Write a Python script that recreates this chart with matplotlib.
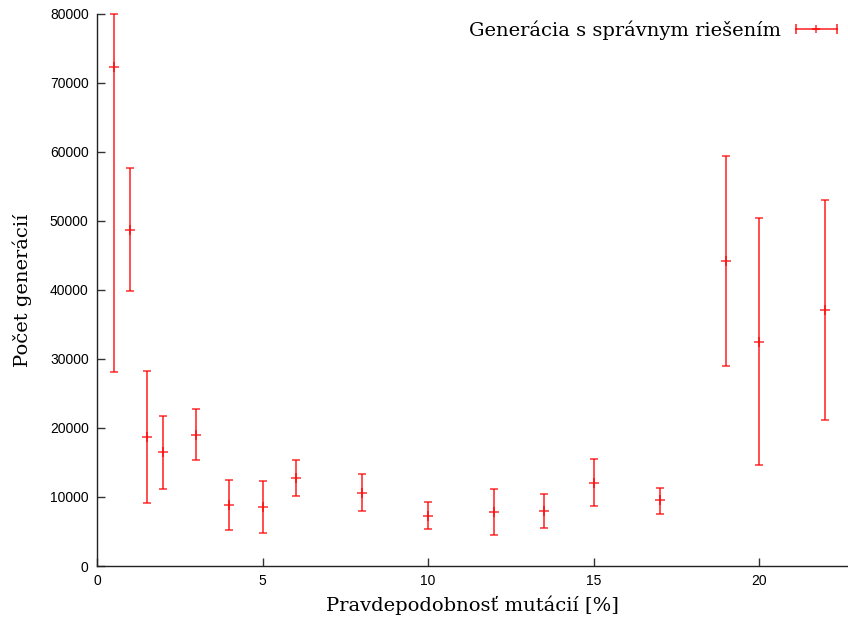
"""
Recreation of the gnuplot-style error bar chart (mutation probability vs. generations).
"""

import matplotlib
matplotlib.use("Agg")
import matplotlib.pyplot as plt
from matplotlib.lines import Line2D
from matplotlib.legend_handler import HandlerLine2D, HandlerTuple

# Mutation probability [%]
mutation = [0.5, 1.0, 1.5, 2.0, 3.0, 4.0, 5.0, 6.0, 8.0, 10.0,
            12.0, 13.5, 15.0, 17.0, 19.0, 20.0, 22.0]
# Mean number of generations
gen_mean = [72300, 48700, 18700, 16500, 19000, 8800, 8500, 12750, 10600, 7300,
            7800, 7900, 12100, 9500, 44200, 32500, 37100]
# Lower and upper ends of the error bars
gen_low = [28100, 39900, 9100, 11100, 15300, 5200, 4800, 10100, 7900, 5300,
           4500, 5500, 8700, 7600, 29000, 14600, 21200]
gen_high = [80000, 57700, 28300, 21800, 22700, 12400, 12300, 15300, 13300, 9300,
            11200, 10400, 15500, 11300, 59400, 50400, 53000]

yerr = [[m - lo for m, lo in zip(gen_mean, gen_low)],
        [hi - m for m, hi in zip(gen_mean, gen_high)]]

serif = ["DejaVu Serif"]
bar_color = (1.0, 0.0, 0.0, 0.75)

fig = plt.figure(figsize=(8.48, 6.17), dpi=100)
ax = fig.add_axes([97 / 848, 1 - 566 / 617, 751 / 848, 552 / 617])

ax.errorbar(mutation, gen_mean, yerr=yerr, fmt="+", color=bar_color,
            ecolor=bar_color, elinewidth=1.3, capsize=3, capthick=1.3,
            markersize=7, markeredgewidth=1.2, clip_on=False)

ax.set_xlim(0, 22.68)
ax.set_ylim(0, 80000)
ax.set_xticks([0, 5, 10, 15, 20])
ax.set_yticks(range(0, 80001, 10000))

for side in ("top", "right"):
    ax.spines[side].set_visible(False)
for side in ("left", "bottom"):
    ax.spines[side].set_linewidth(1.0)
    ax.spines[side].set_color("#222222")

ax.tick_params(direction="in", length=6, width=1.0, color="#333333",
               labelsize=10, pad=6)
for lab in ax.get_xticklabels() + ax.get_yticklabels():
    lab.set_family(["Liberation Sans", "DejaVu Sans"])

ax.set_xlabel("Pravdepodobnosť mutácií [%]", family=serif, fontsize=14,
              labelpad=5)
ax.set_ylabel("Počet generácií", family=serif, fontsize=14, labelpad=13)

# gnuplot-like legend key: horizontal bar with end caps and a centre cross
caps = Line2D([], [], color=bar_color, lw=1.3, marker="|", markersize=7,
              markeredgewidth=1.3)
cross = Line2D([], [], color=bar_color, lw=0, marker="+", markersize=6,
               markeredgewidth=1.2)
ax.legend([(caps, cross)], ["Generácia s správnym riešením"],
          handler_map={caps: HandlerLine2D(numpoints=2),
                       cross: HandlerLine2D(numpoints=1),
                       tuple: HandlerTuple(ndivide=1)},
          loc="upper right", bbox_to_anchor=(1.016, 1.02), frameon=False,
          markerfirst=False, handlelength=2.7, handletextpad=0.45,
          prop={"family": serif, "size": 14})

fig.savefig("out.png", dpi=100)
